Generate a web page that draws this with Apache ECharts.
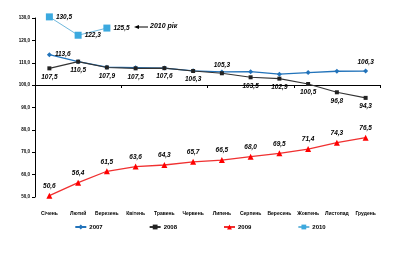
<!DOCTYPE html>
<html><head><meta charset="utf-8">
<script src="https://cdn.jsdelivr.net/npm/echarts@6/dist/echarts.min.js"></script>
<style>html,body{margin:0;padding:0;background:#fff}#c{width:400px;height:253px}</style>
</head><body><div id="c"></div>
<script>
var months = ['Січень','Лютий','Березень','Квітень','Травень','Червень','Липень','Серпень','Вересень','Жовтень','Листопад','Грудень'];
var s2007 = [113.6,110.5,108.0,107.8,107.6,106.4,105.9,106.0,104.9,105.6,106.2,106.3];
var s2008 = [107.5,110.5,107.9,107.5,107.6,106.3,105.3,103.5,102.9,100.5,96.8,94.3];
var s2009 = [50.6,56.4,61.5,63.6,64.3,65.7,66.5,68.0,69.5,71.4,74.3,76.5];
var s2010 = [130.5,122.3,125.5];
var names = ['2007','2008','2009','2010'];
var yMin = 50, yMax = 130, yStep = 10;

var fmt = function(v){ return v.toFixed(1).replace('.', ','); };
var lblFont = {fontFamily:'Liberation Sans', fontWeight:'bold', fontStyle:'italic', fontSize:6.5, color:'#000', distance:3};
function pts(arr, showIdx, pos, overrides){
  return arr.map(function(v,i){
    return {value:v, label:{show: showIdx.indexOf(i)>=0, position: (overrides && overrides[i]) || pos, formatter: function(p){return fmt(p.value);}}};
  });
}

var chart = echarts.init(document.getElementById('c'), null, {renderer:'canvas'});
chart.setOption({
  animation:false,
  backgroundColor:'#fff',
  grid:[
    {left:35, right:20, top:18, bottom:56},
    {left:35, right:20, top:18, height:67}
  ],
  xAxis:[
    {type:'category', data:months, gridIndex:0, boundaryGap:true,
     axisLine:{show:false}, axisTick:{show:false},
     axisLabel:{interval:0, margin:14, fontFamily:'Liberation Sans', fontWeight:'bold', fontSize:5, color:'#000'}},
    {type:'category', data:months, gridIndex:1, boundaryGap:true, position:'bottom',
     axisLine:{show:true, lineStyle:{color:'#000', width:1}},
     axisTick:{show:true, length:3, lineStyle:{color:'#000'}},
     axisLabel:{show:false}}
  ],
  yAxis:[
    {type:'value', gridIndex:0, min:yMin, max:yMax, interval:yStep,
     axisLine:{show:true, lineStyle:{color:'#000', width:1}},
     axisTick:{show:true, length:3, lineStyle:{color:'#000'}},
     splitLine:{show:false},
     axisLabel:{margin:5, formatter:function(v){return fmt(v);}, fontFamily:'Liberation Sans', fontWeight:'bold', fontSize:4.5, color:'#000'}},
    {type:'value', gridIndex:1, show:false, min:0, max:1}
  ],
  legend:{
    bottom:18, left:'center', itemGap:46, itemWidth:11, itemHeight:6,
    textStyle:{fontFamily:'Liberation Sans', fontWeight:'bold', fontSize:6, color:'#000', padding:[0,0,0,-2]},
    data:names
  },
  series:[
    {name:names[0], type:'line', data:pts(s2007,[0,11],'top',{0:'right'}), clip:false,
     symbol:'diamond', symbolSize:5, itemStyle:{color:'#2273BA'}, lineStyle:{color:'#2273BA', width:1.3},
     label:lblFont},
    {name:names[1], type:'line', data:pts(s2008,[0,1,2,3,4,5,6,7,8,9,10,11],'bottom',{6:'top'}), clip:false,
     symbol:'rect', symbolSize:4, itemStyle:{color:'#222'}, lineStyle:{color:'#333', width:1.1},
     label:lblFont},
    {name:names[2], type:'line', data:pts(s2009,[0,1,2,3,4,5,6,7,8,9,10,11],'top'), clip:false,
     symbol:'triangle', symbolSize:6, itemStyle:{color:'#FF0000'}, lineStyle:{color:'#F03030', width:1.3},
     label:lblFont},
    {name:names[3], type:'line', data:pts(s2010,[0,1,2],'right'), clip:false,
     symbol:'rect', symbolSize:7, itemStyle:{color:'#3BA9DF'}, lineStyle:{color:'#6FB8DC', width:1},
     label:lblFont}
  ],
  graphic:[
    {type:'line', shape:{x1:148, y1:27, x2:137, y2:27}, style:{stroke:'#000', lineWidth:1}},
    {type:'polygon', shape:{points:[[134,27],[139,25],[139,29]]}, style:{fill:'#000'}},
    {type:'text', left:150, top:23, style:{text:'2010 рік', fontFamily:'Liberation Sans', fontWeight:'bold', fontStyle:'italic', fontSize:7, fill:'#000'}}
  ]
});
</script></body></html>
